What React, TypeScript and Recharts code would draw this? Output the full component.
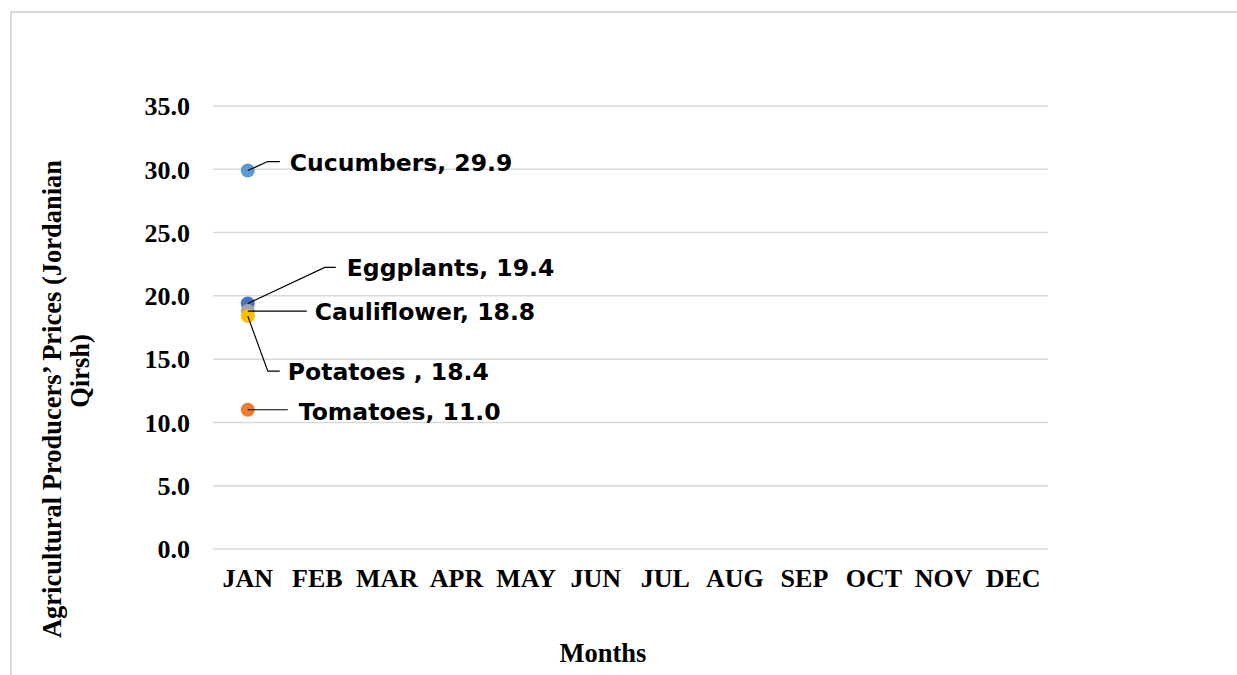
import React from 'react';
import { LineChart, Line, XAxis, YAxis, CartesianGrid, LabelList } from 'recharts';

const months = ['JAN', 'FEB', 'MAR', 'APR', 'MAY', 'JUN', 'JUL', 'AUG', 'SEP', 'OCT', 'NOV', 'DEC'];
const yTicks = [0, 5, 10, 15, 20, 25, 30, 35];

// only January has been published so far
const eggplants = [19.4, null, null, null, null, null, null, null, null, null, null, null];
const tomatoes = [11.0, null, null, null, null, null, null, null, null, null, null, null];
const cauliflower = [18.8, null, null, null, null, null, null, null, null, null, null, null];
const potatoes = [18.4, null, null, null, null, null, null, null, null, null, null, null];
const cucumbers = [29.9, null, null, null, null, null, null, null, null, null, null, null];

const data = months.map((month, i) => ({
  month,
  Eggplants: eggplants[i],
  Tomatoes: tomatoes[i],
  Cauliflower: cauliflower[i],
  Potatoes: potatoes[i],
  Cucumbers: cucumbers[i]
}));

// series: key, label text, colour, leader line path (relative to the dot), text offset
const series = [
  { key: 'Eggplants', name: 'Eggplants', color: '#4472C4', leader: [[0, 0], [77, -36], [88, -36]], tx: 99, ty: -35 },
  { key: 'Tomatoes', name: 'Tomatoes', color: '#ED7D31', leader: [[0, 0], [40, 0]], tx: 51, ty: 2 },
  { key: 'Cauliflower', name: 'Cauliflower', color: '#A5A5A5', leader: [[0, 0], [59, 0]], tx: 67, ty: 1 },
  { key: 'Potatoes', name: 'Potatoes ', color: '#FFC000', leader: [[0, 0], [20, 55], [32, 55]], tx: 40, ty: 56 },
  { key: 'Cucumbers', name: 'Cucumbers', color: '#5B9BD5', leader: [[0, 0], [20, -9], [32, -9]], tx: 42, ty: -8 }
];

const serif = '"Liberation Serif", "Times New Roman", serif';
const sans = '"DejaVu Sans", Verdana, sans-serif';

function makeLabel(s: (typeof series)[number]) {
  return (props: any) => {
    const { x, y, value } = props;
    if (value == null || x == null || y == null) return null;
    const pts = s.leader.map(([dx, dy]) => `${x + dx},${y + dy}`).join(' ');
    return (
      <g>
        <polyline points={pts} fill="none" stroke="#000" strokeWidth={1.2} />
        <text
          x={x + s.tx}
          y={y + s.ty}
          dominantBaseline="central"
          fontFamily={sans}
          fontWeight="bold"
          fontSize={23.5}
          fill="#000"
        >
          {`${s.name}, ${Number(value).toFixed(1)}`}
        </text>
      </g>
    );
  };
}

export default function App() {
  return (
    <div style={{ position: 'absolute', left: 0, top: 0, width: 1237, height: 675, background: '#fff' }}>
      <div
        style={{
          position: 'absolute',
          left: 10,
          top: 11,
          right: 0,
          bottom: 0,
          borderTop: '2px solid #d9d9d9',
          borderLeft: '2px solid #d9d9d9'
        }}
      />
      <LineChart
        width={1237}
        height={675}
        data={data}
        margin={{ top: 106, right: 189, bottom: 66, left: 143 }}
        style={{ position: 'absolute', left: 0, top: 0 }}
      >
        <CartesianGrid vertical={false} stroke="#d9d9d9" strokeWidth={1.5} />
        <XAxis
          dataKey="month"
          axisLine={false}
          tickLine={false}
          tickSize={0}
          tickMargin={20}
          height={60}
          interval={0}
          padding={{ left: 34.8, right: 34.8 }}
          tick={{ fontFamily: serif, fontWeight: 'bold', fontSize: 26, fill: '#000' }}
        />
        <YAxis
          domain={[0, 35]}
          ticks={yTicks}
          axisLine={false}
          tickLine={false}
          tickSize={0}
          tickMargin={23}
          width={70}
          tickFormatter={(v: number) => v.toFixed(1)}
          tick={{ fontFamily: serif, fontWeight: 'bold', fontSize: 26, fill: '#000' }}
        />
        {series.map((s) => (
          <Line
            key={s.key}
            dataKey={s.key}
            stroke="none"
            strokeWidth={0}
            dot={{ r: 7, fill: s.color, stroke: 'none' }}
            activeDot={false}
            isAnimationActive={false}
          >
            <LabelList dataKey={s.key} content={makeLabel(s)} />
          </Line>
        ))}
      </LineChart>
      <svg width={1237} height={675} style={{ position: 'absolute', left: 0, top: 0, pointerEvents: 'none' }}>
        <text
          transform="translate(52,399) rotate(-90)"
          textAnchor="middle"
          dominantBaseline="central"
          fontFamily={serif}
          fontWeight="bold"
          fontSize={26.5}
          fill="#000"
        >
          Agricultural Producers’ Prices (Jordanian
        </text>
        <text
          transform="translate(80,371) rotate(-90)"
          textAnchor="middle"
          dominantBaseline="central"
          fontFamily={serif}
          fontWeight="bold"
          fontSize={26.5}
          fill="#000"
        >
          Qirsh)
        </text>
        <text
          x={603}
          y={653}
          textAnchor="middle"
          dominantBaseline="central"
          fontFamily={serif}
          fontWeight="bold"
          fontSize={26.5}
          fill="#000"
        >
          Months
        </text>
      </svg>
    </div>
  );
}
